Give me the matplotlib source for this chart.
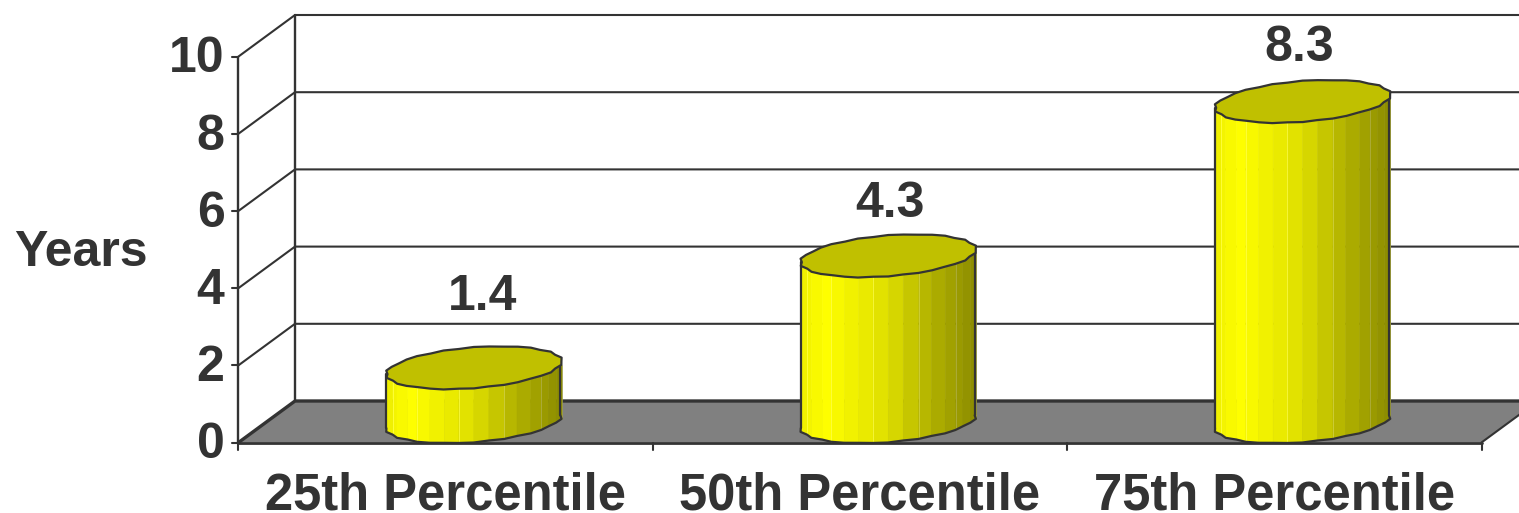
import numpy as np
import matplotlib
matplotlib.use("Agg")
import matplotlib.pyplot as plt
from matplotlib.patches import Polygon
from matplotlib.transforms import IdentityTransform

categories = ["25th Percentile", "50th Percentile", "75th Percentile"]
values = [1.4, 4.3, 8.3]
value_labels = ["1.4", "4.3", "8.3"]
y_ticks = [0, 2, 4, 6, 8, 10]
axis_label = "Years"

INK = "#333333"
FLOOR = "#808080"
CAP = "#C0C000"
FONT = "Liberation Sans"
FONT_SIZE = 36

W, H = 1519, 513
fig = plt.figure(figsize=(W / 100, H / 100), dpi=100)
fig.patch.set_facecolor("white")

# Axes rectangle is the front plane of the 3D box
left, right, bottom, top = 238.5, 1481.5, 442.5, 56.5
ax = fig.add_axes([left / W, 1 - bottom / H, (right - left) / W, (bottom - top) / H])
ax.set_xlim(-0.5, 2.5)
ax.set_ylim(0, 10)
ax.axis("off")

# Depth of the box, in pixels
DX, DY = 56.5, 41.5


def disp(x, y, ox=0.0, oy=0.0):
    """Data position to display pixels, shifted by a pixel offset (oy downward)."""
    px, py = ax.transData.transform((x, y))
    return px + ox, py - oy


def poly(points, **kw):
    fig.add_artist(Polygon(np.array(points), closed=True,
                           transform=IdentityTransform(), **kw))


def line(points, lw=2.0, z=1, color=INK):
    pts = np.array(points)
    fig.add_artist(plt.Line2D(pts[:, 0], pts[:, 1], color=color, lw=lw,
                              transform=IdentityTransform(), zorder=z,
                              solid_capstyle="round", solid_joinstyle="round"))


# Floor
poly([disp(-0.5, 0), disp(2.5, 0), disp(2.5, 0, DX, -DY), disp(-0.5, 0, DX, -DY)],
     facecolor=FLOOR, edgecolor="none", zorder=1)

# Side wall, back wall and gridlines
for t in y_ticks:
    line([disp(-0.5, t), disp(-0.5, t, DX, -DY), disp(2.5, t, DX, -DY)],
         lw=2.4 if t == 0 else 1.5)
line([disp(-0.5, 0), disp(-0.5, 10)], lw=1.7)
line([disp(-0.5, 0, DX, -DY), disp(-0.5, 10, DX, -DY)], lw=1.7)
line([disp(-0.5, 0), disp(2.5, 0)], lw=2.0, z=2)
line([disp(2.5, 0), disp(2.5, 0, DX, -DY)], lw=1.5, z=2)

# Tick marks
for t in y_ticks:
    line([disp(-0.5, t, -6), disp(-0.5, t)], lw=1.5)
for edge in [-0.5, 0.5, 1.5, 2.5]:
    line([disp(edge, 0), disp(edge, 0, 0, 7)], lw=1.5)

# Cylinder geometry, in pixels
A, B, SHEAR = 87.5, 20.4, 6.5
FACETS = 36
# Radial unevenness of the faceted outline
WOBBLE = [0.0, 0.7, -0.5, 0.6, -0.6, 0.5, 0.2, -0.6]


def ring(cx, cy, angles):
    out = []
    for i, a in angles:
        s = 1 + WOBBLE[i % len(WOBBLE)] / 40
        out.append((cx + s * A * np.cos(a),
                    cy + s * (B * np.sin(a) + SHEAR * np.cos(a))))
    return out


def shade(u):
    """Side colour across the cylinder, u from 0 (left) to 1 (right)."""
    level = np.interp(u, [0, 0.14, 0.5, 0.75, 1], [238, 255, 222, 176, 140])
    return (level / 255, level / 255, 0)


front = [(i, np.pi + np.pi * i / (FACETS // 2)) for i in range(FACETS // 2 + 1)]
whole = [(i, 2 * np.pi * i / FACETS) for i in range(FACETS)]

for k, v in enumerate(values):
    bx, by = disp(k, 0, DX / 2, -DY / 2)
    tx, ty = disp(k, v, DX / 2, -DY / 2)
    low = np.array(ring(bx, by, front))
    high = np.array(ring(tx, ty, front))
    # Vertical strips, lit from the left
    for j in range(len(low) - 1):
        u = ((low[j][0] + low[j + 1][0]) / 2 - (bx - A)) / (2 * A)
        c = shade(u)
        poly([low[j], low[j + 1], high[j + 1], high[j]], facecolor=c,
             edgecolor=c, lw=0.4, zorder=3)
    # Faint seams between the strips
    for j in range(2, len(low) - 1, 3):
        u = (low[j][0] - (bx - A)) / (2 * A)
        c = tuple(min(1, x + 0.07) for x in shade(u)[:2]) + (0.25,)
        line([low[j], high[j]], lw=0.6, z=3.5, color=c)
    # Outline of the side and the base
    line(low, lw=1.6, z=4)
    line([low[0], high[0]], lw=1.6, z=4)
    line([low[-1], high[-1]], lw=1.6, z=4)
    # Cap
    poly(ring(tx, ty, whole), facecolor=CAP, edgecolor=INK, lw=1.6,
         joinstyle="round", zorder=5)

text_kw = dict(family=FONT, fontweight="bold", fontsize=FONT_SIZE, color=INK,
               transform=IdentityTransform())

for t in y_ticks:
    px, py = disp(-0.5, t, -14, 16)
    fig.text(px, py, str(t), ha="right", va="baseline", **text_kw)

category_kw = dict(text_kw, fontsize=36.5)
for k, name in enumerate(categories):
    px, py = disp(k, 0, 0, 67.5)
    fig.text(px, py, name, ha="center", va="baseline", **category_kw)

# Value captions sit above the caps, placed by hand
caption_shift = [(37, -78.5), (30, -60), (25, -61)]
for k, (v, s) in enumerate(zip(values, value_labels)):
    ox, oy = caption_shift[k]
    px, py = disp(k, v, ox, oy)
    fig.text(px, py, s, ha="center", va="baseline", **text_kw)

fig.text(81, H - 266, axis_label, ha="center", va="baseline", **text_kw)

fig.savefig("out.png", dpi=100)
